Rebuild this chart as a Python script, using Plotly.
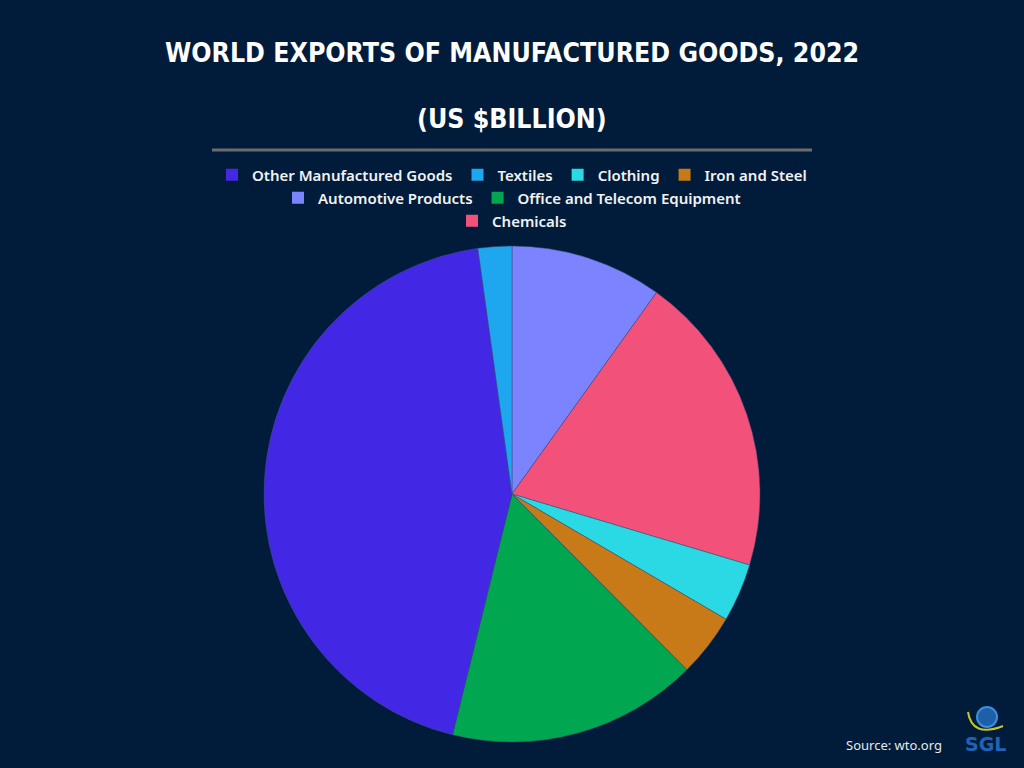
import plotly.graph_objects as go

# Data (US $ billion)
pie_labels = ["Automotive Products", "Chemicals", "Clothing", "Iron and Steel",
              "Office and Telecom Equipment", "Other Manufactured Goods", "Textiles"]
pie_values = [1445, 2876, 555, 600, 2380, 6410, 321]
pie_colors = ["#7b83ff", "#f2517a", "#2ad9e4", "#c97a18", "#00a650", "#4228e5", "#1ea6ef"]

legend_rows = [
    ["Other Manufactured Goods", "Textiles", "Clothing", "Iron and Steel"],
    ["Automotive Products", "Office and Telecom Equipment"],
    ["Chemicals"],
]

BG = "#011c3b"
color_of = dict(zip(pie_labels, pie_colors))

fig = go.Figure()
fig.add_trace(go.Pie(
    labels=pie_labels, values=pie_values, sort=False, direction="clockwise",
    marker=dict(colors=pie_colors, line=dict(color="#3a4f7a", width=0.5)),
    textinfo="none", showlegend=False,
    domain=dict(x=[264/1024, 760/1024], y=[1-742/768, 1-246/768]),
))

legend_names = ["legend", "legend2", "legend3"]
for i, row in enumerate(legend_rows):
    for name in row:
        fig.add_trace(go.Scatter(
            x=[None], y=[None], mode="markers", name=name,
            marker=dict(symbol="square", size=12, color=color_of[name]),
            legend=legend_names[i], showlegend=True,
        ))

legfont = dict(family="Noto Sans", size=15, color="#f2f2f2", weight=600)
row_y = [175, 198, 221]
for i, ln in enumerate(legend_names):
    fig.update_layout({ln: dict(
        orientation="h", x=0.5, xanchor="center", y=1-row_y[i]/768, yanchor="middle",
        font=legfont, bgcolor="rgba(0,0,0,0)", itemwidth=30, tracegroupgap=0,
        itemsizing="constant",
    )})

title_font = dict(family="DejaVu Sans Condensed, Liberation Sans Narrow, Arial Narrow, sans-serif",
                  size=26.5, color="white", weight="bold")
fig.add_annotation(text="WORLD EXPORTS OF MANUFACTURED GOODS, 2022", x=0.5, y=1-53/768,
                   xref="paper", yref="paper", showarrow=False, font=title_font,
                   xanchor="center", yanchor="middle")
fig.add_annotation(text="(US $BILLION)", x=0.5, y=1-118/768,
                   xref="paper", yref="paper", showarrow=False, font=title_font,
                   xanchor="center", yanchor="middle")
fig.add_shape(type="line", xref="paper", yref="paper", x0=212/1024, x1=812/1024,
              y0=1-150/768, y1=1-150/768, line=dict(color="#6b6b6b", width=3))
fig.add_annotation(text="Source: wto.org", x=944/1024, y=1-745/768, xref="paper", yref="paper",
                   showarrow=False, xanchor="right", yanchor="middle",
                   font=dict(family="Noto Sans", size=13, color="#e8e8e8"))
fig.add_annotation(text="<b>SGL</b>", x=985/1024, y=1-744/768, xref="paper", yref="paper",
                   showarrow=False, xanchor="center", yanchor="middle",
                   font=dict(family="DejaVu Sans", size=19, color="#1f63b8"))
fig.add_shape(type="circle", xref="paper", yref="paper",
              x0=977/1024, x1=997/1024, y0=1-727/768, y1=1-707/768,
              line=dict(color="#3a8fe0", width=2), fillcolor="#1f5fa8")
fig.add_shape(type="path", xref="paper", yref="paper",
              path="M %f %f Q %f %f %f %f" % (968/1024, 1-712/768, 972/1024, 1-738/768, 1003/1024, 1-726/768),
              line=dict(color="#c9c62a", width=2))

fig.update_layout(
    width=1024, height=768, paper_bgcolor=BG, plot_bgcolor=BG,
    margin=dict(l=0, r=0, t=0, b=0),
    xaxis=dict(visible=False), yaxis=dict(visible=False),
)
fig.write_html("out.html", config={"displayModeBar": False},
               post_script="document.body.style.margin='0';document.body.style.background='%s';" % BG)
